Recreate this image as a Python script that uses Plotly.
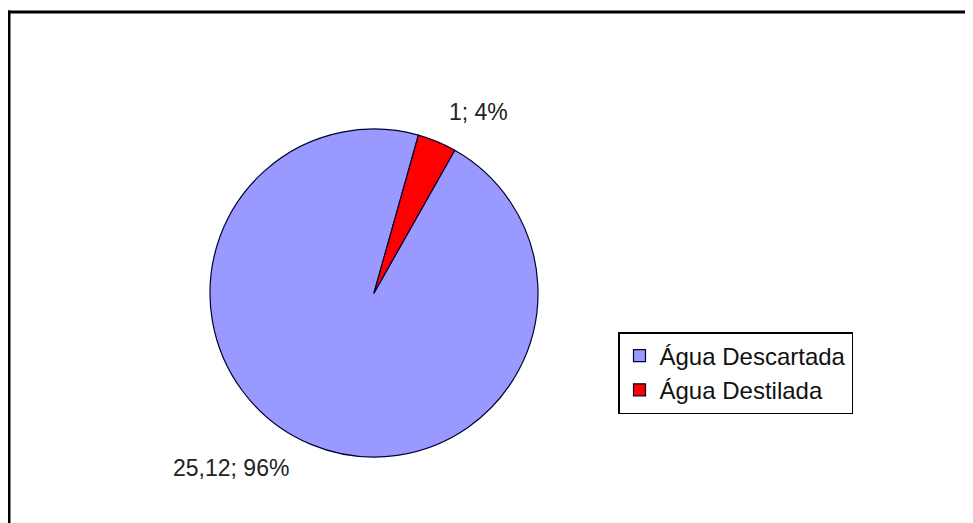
import plotly.graph_objects as go

labels = ["Água Descartada", "Água Destilada"]
values = [25.12, 1]
colors = ["#9999FF", "#FF0000"]

# the page body has an 8px margin, so the figure is sized to fill the rest
OFF = 8
W, H = 973 - OFF, 523 - OFF
total = sum(values)

def fmt_val(v):
    s = f"{v:g}"
    return s.replace(".", ",")

label_texts = [f"{fmt_val(v)}; {round(100 * v / total):.0f}%" for v in values]

def px(x):
    return (x - OFF) / W

def py(y):
    return 1 - (y - OFF) / H

cx, cy, r = 374, 293, 164

fig = go.Figure()
fig.add_trace(go.Pie(
    labels=labels,
    values=values,
    sort=False,
    direction="clockwise",
    rotation=29.5,
    marker=dict(colors=colors, line=dict(color="#000033", width=1.2)),
    textinfo="none",
    hoverinfo="label+value+percent",
    domain=dict(x=[px(cx - r), px(cx + r)], y=[py(cy + r), py(cy - r)]),
))

label_pos = [(231, 468), (478, 112)]
for t, (x, y) in zip(label_texts, label_pos):
    fig.add_annotation(
        x=px(x), y=py(y), xref="paper", yref="paper",
        text=t, showarrow=False, xanchor="center", yanchor="middle",
        font=dict(family="Liberation Sans, Arial", size=23, color="#222222"),
    )

# outer frame: only the top and left edges are visible in the reference
fig.add_shape(
    type="line", xref="paper", yref="paper",
    x0=px(7.5), x1=1.0, y0=py(12), y1=py(12),
    line=dict(color="black", width=3),
)
fig.add_shape(
    type="line", xref="paper", yref="paper",
    x0=px(9), x1=px(9), y0=-0.02, y1=py(10.5),
    line=dict(color="black", width=3),
)

fig.update_layout(
    width=W, height=H,
    margin=dict(l=0, r=0, t=0, b=0),
    paper_bgcolor="white",
    plot_bgcolor="white",
    showlegend=True,
    legend=dict(
        x=px(618), y=py(332), xanchor="left", yanchor="top",
        bordercolor="black", borderwidth=1.5,
        font=dict(family="Liberation Sans, Arial", size=24, color="#111111"),
        itemwidth=30,
    ),
)

fig.write_html("out.html")
